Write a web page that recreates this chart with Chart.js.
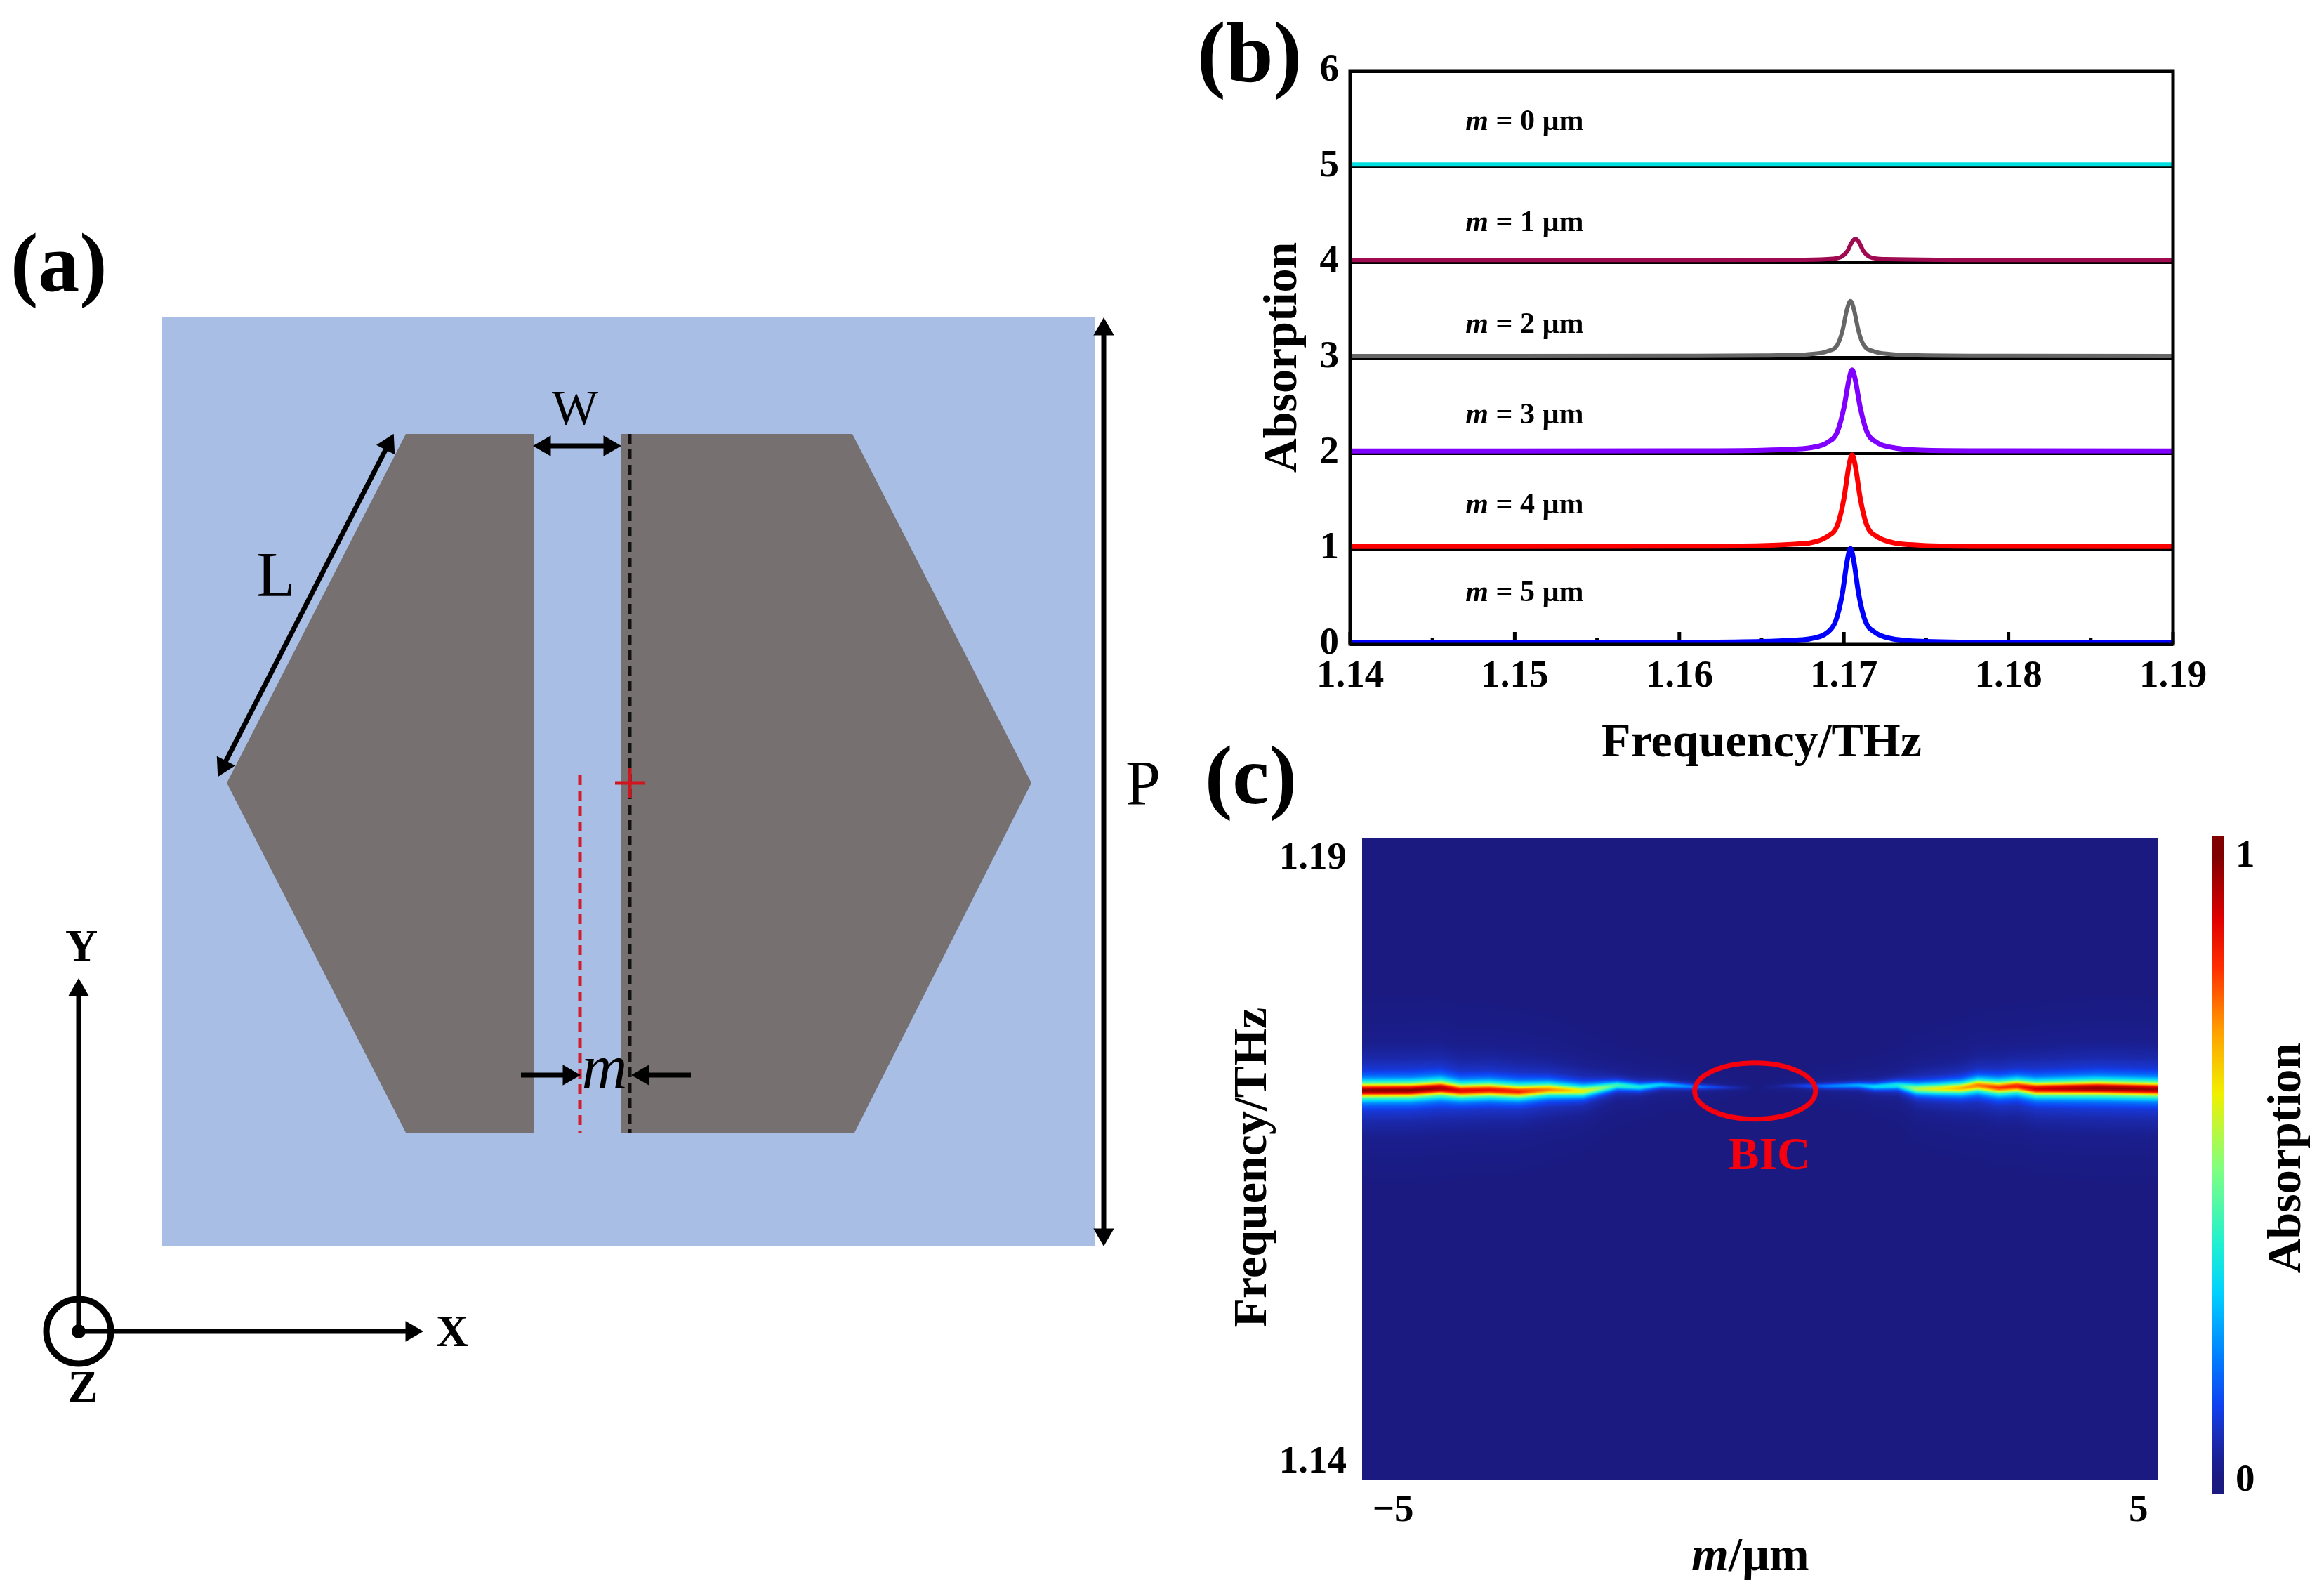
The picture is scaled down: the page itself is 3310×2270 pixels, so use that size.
<!DOCTYPE html>
<html>
<head>
<meta charset="utf-8">
<title>BIC absorption figure</title>
<script src="https://cdn.jsdelivr.net/npm/chart.js@4"></script>
<style>
  html, body { margin: 0; background: #fff; }
  body { position: relative; width: 3310px; height: 2270px; overflow: hidden; }
  canvas { position: absolute; }
  .panel { position: absolute; font: bold 118px "Liberation Serif", serif; line-height: 1; color: #000; }
</style>
</head>
<body>
<div class="panel" style="left:15px;top:316px">(a)</div>
<div class="panel" style="left:1705px;top:14px;font-size:122px">(b)</div>
<div class="panel" style="left:1716px;top:1046px">(c)</div>
<canvas id="schematic" width="1700" height="1800" style="left:0;top:300px"></canvas>
<canvas id="spectra" width="1400" height="1050" style="left:1780px;top:50px"></canvas>
<canvas id="heat" width="1370" height="1137" style="left:1730px;top:1133px"></canvas>
<canvas id="colorbar" width="210" height="1058" style="left:3100px;top:1130px"></canvas>
<script>
// ---- panel (b): spectra, stacked with an offset of 1 per curve
const freqTicks = [1.14, 1.15, 1.16, 1.17, 1.18, 1.19];
const freqMinorTicks = [1.145, 1.155, 1.165, 1.175, 1.185];
const absorptionTicks = [0, 1, 2, 3, 4, 5, 6];

const m0Freq = [1.14, 1.19];
const m0Abs = [5.02, 5.02];
const m1Freq = [1.14, 1.16, 1.167, 1.169, 1.1698, 1.1702, 1.1705, 1.1707, 1.1709, 1.1712, 1.1716, 1.1725, 1.18, 1.19];
const m1Abs = [4.02, 4.02, 4.022, 4.03, 4.05, 4.11, 4.21, 4.24, 4.21, 4.11, 4.05, 4.03, 4.02, 4.02];
const m2Freq = [1.14, 1.15, 1.16, 1.165, 1.167, 1.168, 1.169, 1.1696, 1.1699, 1.1702, 1.1704, 1.1706, 1.1709, 1.1712, 1.1718, 1.1728, 1.174, 1.18, 1.19];
const m2Abs = [3.015, 3.015, 3.017, 3.02, 3.025, 3.035, 3.065, 3.13, 3.27, 3.51, 3.59, 3.51, 3.27, 3.13, 3.065, 3.035, 3.024, 3.016, 3.015];
const m3Freq = [1.14, 1.15, 1.16, 1.165, 1.167, 1.168, 1.169, 1.1696, 1.17, 1.1703, 1.1705, 1.1707, 1.171, 1.1714, 1.172, 1.173, 1.174, 1.175, 1.18, 1.19];
const m3Abs = [2.02, 2.02, 2.022, 2.028, 2.04, 2.055, 2.11, 2.22, 2.47, 2.76, 2.87, 2.76, 2.47, 2.22, 2.11, 2.055, 2.035, 2.028, 2.022, 2.02];
const m4Freq = [1.14, 1.15, 1.16, 1.165, 1.167, 1.168, 1.169, 1.1696, 1.17, 1.1703, 1.1705, 1.1707, 1.171, 1.1714, 1.172, 1.173, 1.174, 1.175, 1.18, 1.19];
const m4Abs = [1.02, 1.02, 1.024, 1.03, 1.045, 1.06, 1.125, 1.24, 1.52, 1.86, 1.98, 1.86, 1.52, 1.24, 1.125, 1.06, 1.04, 1.03, 1.022, 1.02];
const m5Freq = [1.14, 1.15, 1.16, 1.165, 1.167, 1.168, 1.169, 1.1695, 1.1699, 1.1702, 1.1704, 1.1706, 1.1709, 1.1713, 1.1719, 1.1729, 1.1739, 1.175, 1.18, 1.19];
const m5Abs = [0.012, 0.012, 0.016, 0.025, 0.04, 0.055, 0.12, 0.24, 0.52, 0.87, 1.0, 0.87, 0.52, 0.24, 0.12, 0.055, 0.035, 0.025, 0.014, 0.012];

const curveNames = ['0', '1', '2', '3', '4', '5'];
const curveLabelFreq = 1.1506;
const curveLabelAbs = [5.46, 4.4, 3.34, 2.39, 1.45, 0.53];

// ---- panel (c): ridge of the absorption band, read column by column
const ridgeM = [-5, -4.39, -4.01, -3.76, -3.4, -3.03, -2.65, -2.22, -1.79, -1.51, -1.24, -0.84, -0.44, -0.05, 0.34, 0.85, 1.24, 1.44, 1.73, 1.97, 2.24, 2.53, 2.74, 3.0, 3.23, 3.47, 4.24, 4.99];
const ridgeFreq = [1.17031, 1.17033, 1.17049, 1.17029, 1.17036, 1.17023, 1.17038, 1.17027, 1.17071, 1.17058, 1.17075, 1.17061, 1.17054, 1.1705, 1.17067, 1.17065, 1.17071, 1.17061, 1.17071, 1.17044, 1.17044, 1.17049, 1.17071, 1.17053, 1.17065, 1.17044, 1.17049, 1.1704];
const ridgeAmp = [1, 1, 0.97, 0.9, 0.88, 0.85, 0.75, 0.62, 0.42, 0.36, 0.3, 0.2, 0.09, 0, 0.06, 0.2, 0.26, 0.32, 0.36, 0.55, 0.62, 0.7, 0.76, 0.82, 0.85, 0.92, 1, 0.98];
const ridgeWidth = [1, 1, 1, 0.95, 0.95, 0.92, 0.85, 0.75, 0.55, 0.5, 0.42, 0.35, 0.3, 0.3, 0.3, 0.35, 0.4, 0.45, 0.55, 0.7, 0.75, 0.8, 0.85, 0.9, 0.9, 0.95, 1, 1];
// cross-section of the band, distance from the ridge in THz
const bandOffset = [0, 0.00016, 0.00027, 0.00038, 0.00055, 0.00076, 0.00098, 0.0012, 0.0016, 0.0025, 0.0038, 0.0055, 0.008];
const bandProfile = [1, 0.93, 0.82, 0.68, 0.48, 0.33, 0.22, 0.16, 0.1, 0.055, 0.025, 0.01, 0];

const heatXTicks = [-4.61, 4.76];
const heatXLabels = ['\u22125', '5'];
const heatYTicks = [1.14131, 1.18836];
const heatYLabels = ['1.14', '1.19'];
const bicCentre = [-0.06, 1.17027];
const bicRadius = [0.76, 0.00219];
const colorbarTicks = [0, 1];

// jet-like colour scale of the figure
const jetStops = [0, 0.03, 0.08, 0.12, 0.2, 0.3, 0.38, 0.5, 0.62, 0.72, 0.82, 0.9, 1];
const jetColors = [[26, 26, 128], [26, 31, 144], [26, 48, 192], [16, 64, 240], [0, 128, 255], [0, 208, 255], [32, 240, 208], [128, 255, 128], [240, 240, 0], [255, 160, 0], [255, 48, 0], [224, 0, 0], [128, 0, 0]];

// ---- panel (a): schematic geometry, in the schematic chart's own units
const cellX = [231, 1559, 1559, 231, 231];
const cellY = [452, 452, 1775, 1775, 452];
const leftBarX = [578, 760, 760, 578, 323, 578];
const leftBarY = [618, 618, 1613, 1613, 1115, 618];
const rightBarX = [884, 1214, 1469, 1217, 884, 884];
const rightBarY = [618, 618, 1115, 1613, 1613, 618];

const fontFamily = '"Liberation Serif", serif';

function zip(xs, ys) { return xs.map((x, i) => ({ x, y: ys[i] })); }
function lerp(xs, ys, x) {
  if (x <= xs[0]) return ys[0];
  for (let i = 1; i < xs.length; i++) {
    if (x <= xs[i]) return ys[i - 1] + (ys[i] - ys[i - 1]) * (x - xs[i - 1]) / (xs[i] - xs[i - 1]);
  }
  return ys[ys.length - 1];
}
function jet(v) {
  return [0, 1, 2].map(c => lerp(jetStops, jetColors.map(s => s[c]), v));
}

// text placed at data coordinates; runs allow an italic m next to upright text
function notes(items) {
  return {
    id: 'notes',
    afterDraw(chart) {
      const ctx = chart.ctx;
      items.forEach(n => {
        const px = chart.scales.x.getPixelForValue(n.x);
        const py = chart.scales.y.getPixelForValue(n.y);
        const fontOf = r => `${r.italic ? 'italic ' : ''}${n.weight || 'bold'} ${n.size}px ${fontFamily}`;
        ctx.save();
        ctx.translate(px, py);
        if (n.rotate) ctx.rotate(n.rotate);
        ctx.fillStyle = n.color || '#000';
        ctx.textBaseline = 'middle';
        ctx.textAlign = 'left';
        let total = 0;
        n.runs.forEach(r => { ctx.font = fontOf(r); total += ctx.measureText(r.text).width; });
        let cursor = -total / 2;
        n.runs.forEach(r => {
          ctx.font = fontOf(r);
          ctx.fillText(r.text, cursor, 0);
          cursor += ctx.measureText(r.text).width;
        });
        ctx.restore();
      });
    }
  };
}

const baseOptions = {
  responsive: false,
  animation: false,
  events: [],
  plugins: { legend: { display: false }, tooltip: { enabled: false } }
};

// ---- panel (a)
function arrow(xs, ys, bothEnds) {
  const angle = Math.atan2(xs[1] - xs[0], -(ys[1] - ys[0])) * 180 / Math.PI;
  return {
    data: zip(xs, ys), showLine: true, borderColor: '#000', borderWidth: 7,
    pointStyle: 'triangle', pointBorderWidth: 0, pointBackgroundColor: '#000',
    pointRadius: [bothEnds ? 17 : 0, 17], pointRotation: [angle + 180, angle], clip: false
  };
}
function dashed(xs, ys, color, width) {
  return { data: zip(xs, ys), showLine: true, borderColor: color, borderWidth: width, borderDash: [14, 8], pointRadius: 0, clip: false };
}
function filled(xs, ys, color) {
  return { data: zip(xs, ys), showLine: true, fill: 'shape', backgroundColor: color, borderWidth: 0, pointRadius: 0, clip: false };
}

new Chart(document.getElementById('schematic'), {
  type: 'scatter',
  data: {
    datasets: [
      arrow([1572, 1572], [469, 1758], true),
      arrow([553, 318], [633, 1091], true),
      arrow([776, 868], [635, 635], true),
      arrow([742, 810], [1531, 1531]),
      arrow([984, 916], [1531, 1531]),
      arrow([112, 112], [1896, 1410]),
      arrow([112, 586], [1896, 1896]),
      { data: [{ x: 112, y: 1896 }], pointRadius: 10, pointBackgroundColor: '#000', pointBorderWidth: 0 },
      { data: [{ x: 112, y: 1896 }], pointRadius: 46, pointBackgroundColor: 'transparent', pointBorderColor: '#000', pointBorderWidth: 9 },
      { data: [{ x: 897, y: 1115 }], pointStyle: 'cross', pointRadius: 21, pointBorderColor: '#d0151f', pointBorderWidth: 5 },
      dashed([897, 897], [618, 1613], '#111', 5),
      dashed([826, 826], [1104, 1613], '#d01c2c', 5),
      filled(leftBarX, leftBarY, '#767170'),
      filled(rightBarX, rightBarY, '#767170'),
      filled(cellX, cellY, '#a9bee5')
    ]
  },
  options: {
    ...baseOptions,
    layout: { padding: 0, autoPadding: false },
    scales: {
      x: { display: false, min: 0, max: 1700 },
      y: { display: false, min: 300, max: 2100, reverse: true }
    }
  },
  plugins: [notes([
    { x: 393, y: 825, size: 90, weight: 'normal', runs: [{ text: 'L' }] },
    { x: 1628, y: 1122, size: 90, weight: 'normal', runs: [{ text: 'P' }] },
    { x: 819, y: 586, size: 70, weight: 'normal', runs: [{ text: 'W' }] },
    { x: 861, y: 1526, size: 90, weight: 'normal', runs: [{ text: 'm', italic: true }] },
    { x: 116, y: 1351, size: 64, runs: [{ text: 'Y' }] },
    { x: 644, y: 1900, size: 64, runs: [{ text: 'X' }] },
    { x: 118, y: 1979, size: 64, runs: [{ text: 'Z' }] }
  ])]
});

// ---- panel (b)
function curve(xs, ys, color, width) {
  return {
    data: zip(xs, ys), borderColor: color, borderWidth: width, pointRadius: 0,
    cubicInterpolationMode: 'monotone', fill: false, clip: false
  };
}

const spectraFrame = {
  id: 'spectraFrame',
  beforeDatasetsDraw(chart) {
    const { ctx, chartArea: a, scales: { x } } = chart;
    ctx.save();
    ctx.fillStyle = '#000';
    freqTicks.forEach(v => ctx.fillRect(x.getPixelForValue(v) - 2.5, a.bottom - 17, 5, 17));
    freqMinorTicks.forEach(v => ctx.fillRect(x.getPixelForValue(v) - 2.5, a.bottom - 8, 5, 8));
    ctx.restore();
  },
  afterDatasetsDraw(chart) {
    const { ctx, chartArea: a } = chart;
    ctx.save();
    ctx.strokeStyle = '#000';
    ctx.lineWidth = 5;
    ctx.strokeRect(a.left, a.top, a.right - a.left, a.bottom - a.top);
    ctx.restore();
  }
};

new Chart(document.getElementById('spectra'), {
  type: 'line',
  data: {
    datasets: [
      curve(m0Freq, m0Abs, '#00e0e0', 6),
      curve(m1Freq, m1Abs, '#a00a50', 6),
      curve(m2Freq, m2Abs, '#666666', 6),
      curve(m3Freq, m3Abs, '#7f00ff', 7),
      curve(m4Freq, m4Abs, '#ff0000', 7),
      curve(m5Freq, m5Abs, '#0000ff', 7)
    ]
  },
  options: {
    ...baseOptions,
    layout: { padding: { top: 51, right: 85, left: 0, bottom: 0 }, autoPadding: false },
    scales: {
      x: {
        type: 'linear', min: 1.14, max: 1.19,
        afterFit(s) { s.height = 183; },
        afterBuildTicks(s) { s.ticks = freqTicks.map(value => ({ value })); },
        grid: { display: false },
        border: { display: false },
        ticks: {
          maxRotation: 0, autoSkip: false, padding: 6, color: '#000',
          font: { family: fontFamily, size: 55, weight: 'bold' },
          callback: v => v.toFixed(2)
        },
        title: {
          display: true, text: 'Frequency/THz', color: '#000', padding: { top: 5, bottom: 0 },
          font: { family: fontFamily, size: 68, weight: 'bold' }
        }
      },
      y: {
        min: 0, max: 6,
        afterFit(s) { s.width = 143; },
        afterBuildTicks(s) { s.ticks = absorptionTicks.map(value => ({ value })); },
        grid: { color: '#000', lineWidth: 5, drawTicks: false },
        border: { display: false },
        ticks: {
          padding: 16, color: '#000',
          font: { family: fontFamily, size: 55, weight: 'bold' }
        },
        title: {
          display: true, text: 'Absorption', color: '#000', padding: { top: 8, bottom: 0 },
          font: { family: fontFamily, size: 68, weight: 'bold' }
        }
      }
    }
  },
  plugins: [spectraFrame, notes(curveNames.map((name, i) => ({
    x: curveLabelFreq, y: curveLabelAbs[i], size: 42,
    runs: [{ text: 'm', italic: true }, { text: ` = ${name} \u00b5m` }]
  })))]
});

// ---- panel (c)
const heatField = {
  id: 'heatField',
  beforeDatasetsDraw(chart) {
    const { ctx, chartArea: a, scales: { x, y } } = chart;
    const left = Math.round(a.left), top = Math.round(a.top);
    const w = Math.round(a.right - a.left), h = Math.round(a.bottom - a.top);
    const img = ctx.createImageData(w, h);
    for (let i = 0; i < w; i++) {
      const m = x.getValueForPixel(left + i + 0.5);
      const centre = lerp(ridgeM, ridgeFreq, m);
      const amp = lerp(ridgeM, ridgeAmp, m);
      const width = lerp(ridgeM, ridgeWidth, m);
      for (let j = 0; j < h; j++) {
        const f = y.getValueForPixel(top + j + 0.5);
        const v = amp * lerp(bandOffset, bandProfile, Math.abs(f - centre) / width);
        const c = jet(v), k = (j * w + i) * 4;
        img.data[k] = c[0]; img.data[k + 1] = c[1]; img.data[k + 2] = c[2]; img.data[k + 3] = 255;
      }
    }
    ctx.putImageData(img, left, top);
  },
  afterDatasetsDraw(chart) {
    const { ctx, scales: { x, y } } = chart;
    const cx = x.getPixelForValue(bicCentre[0]), cy = y.getPixelForValue(bicCentre[1]);
    const rx = Math.abs(x.getPixelForValue(bicCentre[0] + bicRadius[0]) - cx);
    const ry = Math.abs(y.getPixelForValue(bicCentre[1] + bicRadius[1]) - cy);
    ctx.save();
    ctx.strokeStyle = '#f5000f';
    ctx.lineWidth = 7;
    ctx.beginPath();
    ctx.ellipse(cx, cy, rx, ry, 0, 0, Math.PI * 2);
    ctx.stroke();
    ctx.restore();
  }
};

new Chart(document.getElementById('heat'), {
  type: 'scatter',
  data: { datasets: [{ data: zip(ridgeM, ridgeFreq), pointRadius: 0, showLine: false }] },
  options: {
    ...baseOptions,
    layout: { padding: { top: 60, right: 27, left: 0, bottom: 0 }, autoPadding: false },
    scales: {
      x: {
        min: -5, max: 5,
        afterFit(s) { s.height = 163; },
        afterBuildTicks(s) { s.ticks = heatXTicks.map(value => ({ value })); },
        grid: { display: false },
        border: { display: false },
        ticks: {
          maxRotation: 0, autoSkip: false, padding: 4, color: '#000',
          font: { family: fontFamily, size: 55, weight: 'bold' },
          callback: (v, i) => heatXLabels[i]
        }
      },
      y: {
        min: 1.14, max: 1.19,
        afterFit(s) { s.width = 210; },
        afterBuildTicks(s) { s.ticks = heatYTicks.map(value => ({ value })); },
        grid: { display: false },
        border: { display: false },
        ticks: {
          autoSkip: false, padding: 14, color: '#000',
          font: { family: fontFamily, size: 55, weight: 'bold' },
          callback: (v, i) => heatYLabels[i]
        }
      }
    }
  },
  plugins: [heatField, notes([
    { x: 0.12, y: 1.16513, size: 66, color: '#f5000f', runs: [{ text: 'BIC' }] },
    { x: -0.12, y: 1.13393, size: 68, runs: [{ text: 'm', italic: true }, { text: '/\u00b5m' }] },
    { x: -6.36, y: 1.16431, size: 68, rotate: -Math.PI / 2, runs: [{ text: 'Frequency/THz' }] }
  ])]
});

// ---- colour bar of panel (c)
const colorRamp = {
  id: 'colorRamp',
  beforeDatasetsDraw(chart) {
    const { ctx, chartArea: a, scales: { y } } = chart;
    for (let p = Math.round(a.top); p < Math.round(a.bottom); p++) {
      const v = Math.min(1, Math.max(0, y.getValueForPixel(p + 0.5)));
      const c = jet(v);
      ctx.fillStyle = `rgb(${c[0]},${c[1]},${c[2]})`;
      ctx.fillRect(a.left, p, a.right - a.left, 1);
    }
  }
};

new Chart(document.getElementById('colorbar'), {
  type: 'scatter',
  data: { datasets: [{ data: zip([0, 0], colorbarTicks), pointRadius: 0, showLine: false }] },
  options: {
    ...baseOptions,
    layout: { padding: { top: 60, left: 50, right: 0, bottom: 60 }, autoPadding: false },
    scales: {
      x: { display: false, min: 0, max: 1 },
      y: {
        position: 'right', min: -0.0215, max: 1.0335,
        afterFit(s) { s.width = 142; },
        afterBuildTicks(s) { s.ticks = colorbarTicks.map(value => ({ value })); },
        grid: { display: false },
        border: { display: false },
        ticks: {
          autoSkip: false, padding: 8, color: '#000',
          font: { family: fontFamily, size: 55, weight: 'bold' }
        }
      }
    }
  },
  plugins: [colorRamp, notes([
    { x: 6.05, y: 0.517, size: 68, rotate: -Math.PI / 2, runs: [{ text: 'Absorption' }] }
  ])]
});
</script>
</body>
</html>
